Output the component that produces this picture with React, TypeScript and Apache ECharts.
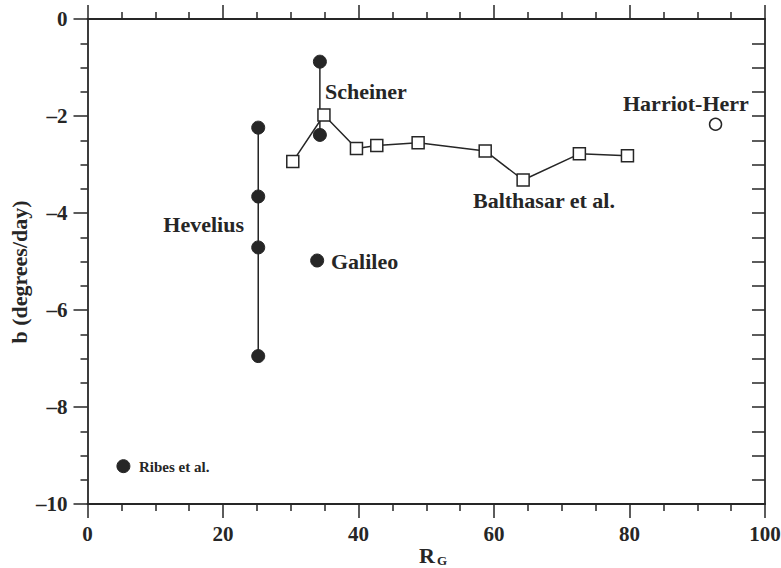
import React, { useEffect, useRef } from "react";
import * as echarts from "echarts";

const heveliusX = [25.2, 25.2, 25.2, 25.2];
const heveliusY = [-2.24, -3.66, -4.71, -6.95];
const scheinerX = [34.3, 34.3];
const scheinerY = [-0.88, -2.39];
const galileo = [33.9, -4.98];
const ribes = [5.3, -9.22];
const harriot = [92.7, -2.17];
const balthasarX = [30.3, 34.9, 39.7, 42.7, 48.8, 58.7, 64.3, 72.6, 79.7];
const balthasarY = [-2.94, -1.98, -2.67, -2.61, -2.55, -2.72, -3.32, -2.78, -2.82];
const xTicks = [0, 20, 40, 60, 80, 100];
const yTicks = [0, -2, -4, -6, -8, -10];

const INK = "#262626";
const FONT = "'Liberation Serif', 'Times New Roman', serif";

const zip = (xs: number[], ys: number[]) => xs.map((x, i) => [x, ys[i]]);

export default function App() {
  const ref = useRef<HTMLDivElement>(null);
  useEffect(() => {
    if (!ref.current) return;
    const chart = echarts.init(ref.current, undefined, { renderer: "svg" });
    const lineStyle = { color: INK, width: 1.5 };
    const filled = { color: INK, borderColor: INK, opacity: 1 };
    const axisLine = { onZero: false, lineStyle: { color: INK, width: 1.8 } };
    const tick = { inside: false, length: 14, lineStyle: { color: INK, width: 1.5 } };
    const minor = { show: true, splitNumber: 4, length: 7, lineStyle: { color: INK, width: 1.5 } };
    const label = (t: string, x: number, y: number, size: number, align = "left") => ({
      type: "text",
      x,
      y,
      style: { text: t, font: `bold ${size}px ${FONT}`, fill: INK, textAlign: align, textVerticalAlign: "middle" },
    });
    chart.setOption({
      animation: false,
      backgroundColor: "#ffffff",
      grid: { left: 87.5, right: 16, top: 19, bottom: 64, outerBoundsMode: "none", containLabel: false },
      xAxis: [
        {
          type: "value",
          min: xTicks[0],
          max: xTicks[xTicks.length - 1],
          interval: 20,
          position: "bottom",
          axisLine,
          axisTick: tick,
          minorTick: minor,
          axisLabel: { margin: 19, fontFamily: FONT, fontWeight: "bold", fontSize: 21, color: INK },
          splitLine: { show: false },
        },
        {
          type: "value",
          min: 0,
          max: 100,
          interval: 20,
          position: "top",
          axisLine,
          axisTick: tick,
          minorTick: minor,
          axisLabel: { show: false },
          splitLine: { show: false },
        },
      ],
      yAxis: [
        {
          type: "value",
          min: yTicks[yTicks.length - 1],
          max: yTicks[0],
          interval: 2,
          position: "left",
          axisLine,
          axisTick: tick,
          minorTick: minor,
          axisLabel: {
            margin: 20,
            fontFamily: FONT,
            fontWeight: "bold",
            fontSize: 21,
            color: INK,
            formatter: (v: number) => (v < 0 ? "\u2013" + Math.abs(v) : String(v)),
          },
          splitLine: { show: false },
        },
        {
          type: "value",
          min: -10,
          max: 0,
          interval: 0.5,
          position: "right",
          axisLine,
          axisTick: { inside: true, length: 13, lineStyle: { color: INK, width: 1.5 } },
          axisLabel: { show: false },
          splitLine: { show: false },
        },
      ],
      series: [
        {
          name: "Hevelius",
          type: "line",
          data: zip(heveliusX, heveliusY),
          symbol: "circle",
          symbolSize: 13,
          lineStyle,
          itemStyle: filled,
          z: 3,
        },
        {
          name: "Scheiner",
          type: "line",
          data: zip(scheinerX, scheinerY),
          symbol: "circle",
          symbolSize: 13,
          lineStyle,
          itemStyle: filled,
          z: 3,
        },
        {
          name: "Balthasar et al.",
          type: "line",
          data: zip(balthasarX, balthasarY),
          symbol: "rect",
          symbolSize: 12,
          lineStyle,
          itemStyle: { color: "#ffffff", borderColor: INK, borderWidth: 1.5, opacity: 1 },
          z: 4,
        },
        {
          name: "Galileo",
          type: "scatter",
          data: [galileo],
          symbol: "circle",
          symbolSize: 13,
          itemStyle: filled,
        },
        {
          name: "Ribes et al.",
          type: "scatter",
          data: [ribes],
          symbol: "circle",
          symbolSize: 13,
          itemStyle: filled,
        },
        {
          name: "Harriot-Herr",
          type: "scatter",
          data: [harriot],
          symbol: "circle",
          symbolSize: 12,
          itemStyle: { color: "#ffffff", borderColor: INK, borderWidth: 1.5, opacity: 1 },
        },
      ],
      graphic: [
        {
          type: "text",
          x: 19,
          y: 272,
          rotation: Math.PI / 2,
          style: { text: "b (degrees/day)", font: `bold 22px ${FONT}`, fill: INK, textAlign: "center", textVerticalAlign: "middle" },
        },
        label("R", 419, 555, 22),
        label("G", 437, 560, 13),
        label("Scheiner", 325, 91, 22),
        label("Harriot-Herr", 623, 103, 22),
        label("Balthasar et al.", 473, 200, 22),
        label("Hevelius", 244, 224, 22, "right"),
        label("Galileo", 331, 261, 22),
        label("Ribes et al.", 139, 467, 15),
      ],
    });
    return () => chart.dispose();
  }, []);
  return <div ref={ref} style={{ width: 781, height: 568, position: "absolute", left: 0, top: 0 }} />;
}
